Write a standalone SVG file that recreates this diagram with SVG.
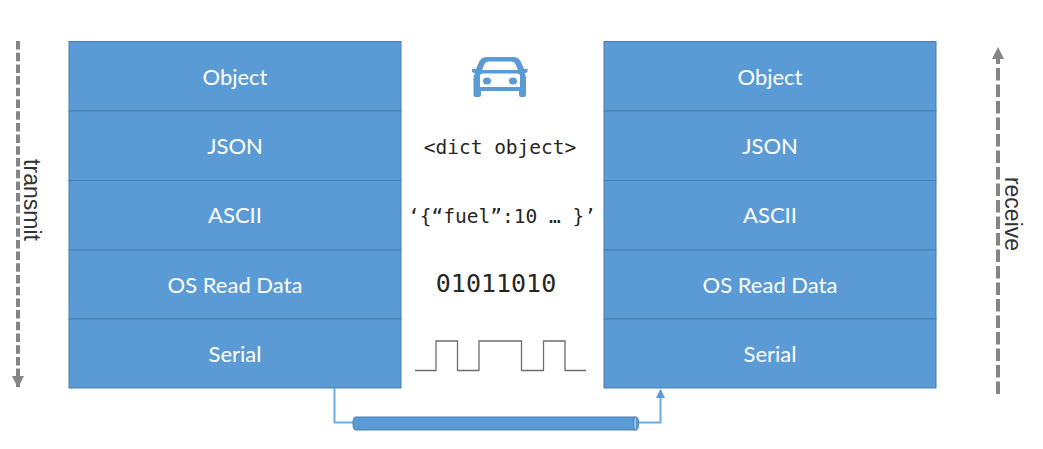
<svg xmlns="http://www.w3.org/2000/svg" width="1043" height="449" viewBox="0 0 1043 449">
<style>
.box{fill:#5b9bd5;stroke:#4a7fae;stroke-width:1}
.lbl{font-family:Lato,"Open Sans",sans-serif;font-size:22px;fill:#fff;text-anchor:middle}
.mono{font-family:"DejaVu Sans Mono","Liberation Mono",monospace;fill:#262626;text-anchor:middle}
.side{font-family:"Liberation Sans",Arial,sans-serif;font-size:23px;fill:#333;text-anchor:middle}
.link{fill:none;stroke:#6cabe2;stroke-width:2}
.dash{fill:none;stroke:#858585;stroke-width:4}
</style>
<defs>
<marker id="headG" markerUnits="userSpaceOnUse" markerWidth="13" markerHeight="13" refX="11" refY="6" orient="auto"><path d="M0 0L12 6L0 12Z" fill="#858585"/></marker>
<marker id="headB" markerUnits="userSpaceOnUse" markerWidth="10" markerHeight="10" refX="8" refY="4.5" orient="auto"><path d="M0 0L9 4.5L0 9Z" fill="#5b9bd5"/></marker>
</defs>
<rect width="1043" height="449" fill="#fff"/>
<g id="left-object"><rect class="box" x="69" y="41.500" width="332" height="69.500"/><text class="lbl" x="235" y="84.500">Object</text></g>
<g id="left-json"><rect class="box" x="69" y="111" width="332" height="69.500"/><text class="lbl" x="235" y="154">JSON</text></g>
<g id="left-ascii"><rect class="box" x="69" y="180.500" width="332" height="69.500"/><text class="lbl" x="235" y="223">ASCII</text></g>
<g id="left-os"><rect class="box" x="69" y="250" width="332" height="69"/><text class="lbl" x="235" y="292.500">OS Read Data</text></g>
<g id="left-serial"><rect class="box" x="69" y="319" width="332" height="69"/><text class="lbl" x="235" y="361.500">Serial</text></g>
<g id="right-object"><rect class="box" x="604" y="41.500" width="332" height="69.500"/><text class="lbl" x="770" y="84.500">Object</text></g>
<g id="right-json"><rect class="box" x="604" y="111" width="332" height="69.500"/><text class="lbl" x="770" y="154">JSON</text></g>
<g id="right-ascii"><rect class="box" x="604" y="180.500" width="332" height="69.500"/><text class="lbl" x="770" y="223">ASCII</text></g>
<g id="right-os"><rect class="box" x="604" y="250" width="332" height="69"/><text class="lbl" x="770" y="292.500">OS Read Data</text></g>
<g id="right-serial"><rect class="box" x="604" y="319" width="332" height="69"/><text class="lbl" x="770" y="361.500">Serial</text></g>
<g id="car"><path fill="#5b9bd5" fill-rule="evenodd" d="M487 57H513Q518 57 520.500 61L524 69H527.500V72L524.500 73.500Q526 75 526 79V95Q526 97 524 97H521Q519 97 519 95V91H481V95Q481 97 479 97H475.500Q473.500 97 473.500 95V79Q473.500 75 475 73.500L472 72V69H476L479.500 61Q482 57 487 57ZM488 61.500Q485.500 61.500 484.500 64L482 70H518L515.500 64Q514.500 61.500 512 61.500ZM480 76V87H520V76Q520 73.500 517 73.500H483Q480 73.500 480 76ZM483 81a4 3.500 0 1 0 8 0a4 3.500 0 1 0 -8 0ZM509 81a4 3.500 0 1 0 8 0a4 3.500 0 1 0 -8 0Z"/></g>
<g id="dict"><text class="mono" x="500" y="154" font-size="19.500px">&lt;dict object&gt;</text></g>
<g id="json-string"><text class="mono" x="502" y="223" font-size="19.500px">‘{“fuel”:10 … }’</text></g>
<g id="bits"><text class="mono" x="496" y="292" font-size="25px">01011010</text></g>
<g id="wave"><path d="M415 370.500H436V341H457.500V370.500H479V341H521.500V370.500H543.500V341H565V370.500H586" fill="none" stroke="#6e6e6e" stroke-width="1.300"/></g>
<g id="connectors">
<path class="link" d="M334.500 388V422.500H353"/>
<path class="link" d="M638 422.500H660.500V390" marker-end="url(#headB)"/>
<path class="dash" d="M18 41V387" stroke-dasharray="8.500 3.200" marker-end="url(#headG)"/>
<path class="dash" d="M998 394V48" stroke-dasharray="12.500 4" marker-end="url(#headG)"/>
</g>
<g id="cable"><path d="M355.500 417H636Q638.500 417 638.500 423.500Q638.500 430 636 430H355.500Q353 430 353 423.500Q353 417 355.500 417Z" fill="#5b9bd5" stroke="#4a7fae"/><path d="M636 417Q633.500 417 633.500 423.500Q633.500 430 636 430" fill="#9dc3e6" stroke="#4a7fae"/></g>
<g id="transmit"><text class="side" transform="translate(24 200) rotate(90)">transmit</text></g>
<g id="receive"><text class="side" transform="translate(1005 214) rotate(90)">receive</text></g>
</svg>
